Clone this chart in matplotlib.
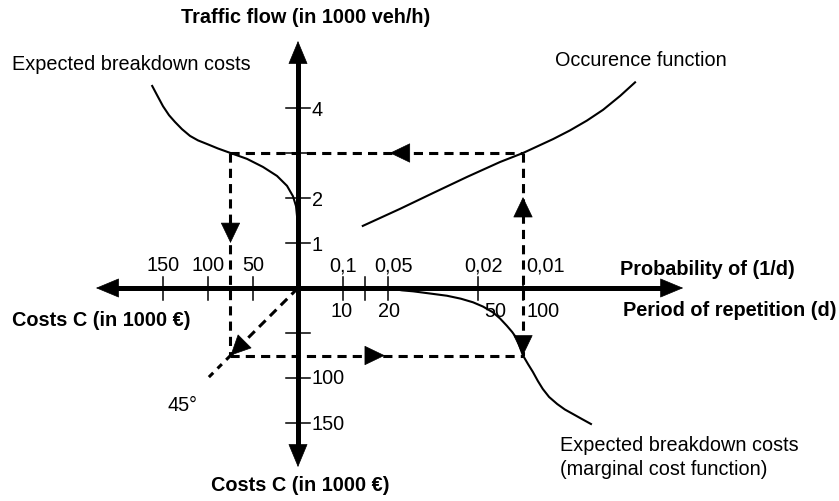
import numpy as np
import matplotlib.pyplot as plt

plt.rcParams['font.family'] = ['Liberation Sans', 'DejaVu Sans']

# One diagram unit = 1000 veh/h on the flow axis = 50 (x1000 EUR) on the cost axes
COST_PER_UNIT = 50.0

# axis ticks
flow_ticks = [1, 2, 3, 4]
flow_labels = ['1', '2', '', '4']
cost_ticks = [50, 100, 150]
left_cost_labels = ['50', '100', '150']
lower_cost_labels = ['', '100', '150']
period_pos = [1.0, 1.5, 2.0, 4.0, 5.0]      # non-linear period scale
period_labels = ['10', '', '20', '50', '100']
prob_labels = ['0,1', '', '0,05', '0,02', '0,01']

# expected breakdown costs vs. traffic flow (upper left)
ul_cost = [162, 156.7, 150, 143.3, 136.7, 128.9, 120, 111.1, 101.1, 88.9, 75,
           56.7, 38.9, 23.3, 12.2, 5.6, 2.2, 1.1]
ul_flow = [4.49, 4.29, 4.04, 3.84, 3.69, 3.53, 3.38, 3.28, 3.2, 3.1, 3.0,
           2.87, 2.69, 2.49, 2.27, 2.04, 1.82, 1.6]

# occurence function: traffic flow vs. period of repetition (upper right)
occ_pos = [1.44, 2.27, 3.0, 3.76, 4.49, 5.0, 5.67, 6.04, 6.42, 6.78, 7.16, 7.49]
occ_flow = [1.38, 1.76, 2.11, 2.47, 2.8, 3.0, 3.31, 3.5, 3.72, 3.96, 4.27, 4.57]

# marginal cost function: costs vs. period of repetition (lower right)
lr_pos = [2.0, 2.31, 2.56, 2.93, 3.31, 3.62, 3.89, 4.11, 4.33, 4.49, 4.64, 4.76,
          4.87, 4.93, 5.0, 5.11, 5.22, 5.33, 5.44, 5.58, 5.76, 5.93, 6.11, 6.31, 6.51]
lr_cost = [0, 2.6, 3.7, 6.1, 8.6, 11.9, 15.9, 20.6, 27, 33.9, 41.9, 48.9,
           56.7, 65.6, 75, 84.4, 93.3, 103.3, 112.2, 121.1, 128.9, 135, 140, 145.6, 151.1]

# design point read through the diagram
design_flow = 3.0
design_pos = 5.0
design_cost = 75.0

fig = plt.figure(figsize=(8.39, 5.02), dpi=100)
ax = fig.add_axes([0, 0, 1, 1])
ax.set_xlim(-298 / 45, 541 / 45)
ax.set_ylim(-213 / 45, 289 / 45)
ax.axis('off')

FS = 14.3


def head(tip, direction, scale=11, hl=1.25, hw=0.6):
    dx, dy = direction
    ax.annotate('', xy=tip, xytext=(tip[0] - dx * 0.3, tip[1] - dy * 0.3),
                arrowprops=dict(arrowstyle=f'-|>,head_length={hl},head_width={hw}',
                                mutation_scale=scale, lw=0.5, color='black',
                                shrinkA=0, shrinkB=0), zorder=5)


# main axes
ax.plot([0, 0], [-3.75, 5.25], color='black', lw=3.6, solid_capstyle='butt', zorder=4)
ax.plot([-4.25, 8.3], [0, 0], color='black', lw=3.6, solid_capstyle='butt', zorder=4)
head((0, 5.49), (0, 1), 13, 1.2, 0.5)
head((0, -3.98), (0, -1), 13, 1.2, 0.5)
head((-4.49, 0), (-1, 0), 13, 1.2, 0.5)
head((8.56, 0), (1, 0), 13, 1.2, 0.5)

tick_kw = dict(color='black', lw=1.1, zorder=3)
for f, lab in zip(flow_ticks, flow_labels):
    ax.plot([-0.27, 0.27], [f, f], **tick_kw)
    if lab:
        ax.text(0.31, f - 0.04, lab, fontsize=FS, ha='left', va='center')
for c, lab_l, lab_d in zip(cost_ticks, left_cost_labels, lower_cost_labels):
    u = c / COST_PER_UNIT
    ax.plot([-u, -u], [-0.26, 0.25], **tick_kw)
    ax.text(-u, 0.53, lab_l, fontsize=FS, ha='center', va='center')
    ax.plot([-0.27, 0.27], [-u, -u], **tick_kw)
    if lab_d:
        ax.text(0.31, -u, lab_d, fontsize=FS, ha='left', va='center')

prob_off = [0.0, 0.0, 0.12, 0.13, 0.07]
per_off = [-0.04, 0.0, 0.02, 0.38, 0.07]
for p, lp, lq, op, oq in zip(period_pos, prob_labels, period_labels, prob_off, per_off):
    ax.plot([p, p], [-0.26, 0.25], **tick_kw)
    ha = 'left' if p == period_pos[-1] else 'center'
    ax.text(p + op, 0.51, lp, fontsize=FS, ha=ha, va='center')
    ax.text(p + oq, -0.49, lq, fontsize=FS, ha=ha, va='center')

# curves
curve_kw = dict(color='black', lw=1.5, zorder=3, solid_joinstyle='round')
ax.plot(-np.array(ul_cost) / COST_PER_UNIT, ul_flow, **curve_kw)
ax.plot(occ_pos, occ_flow, **curve_kw)
ax.plot(lr_pos, -np.array(lr_cost) / COST_PER_UNIT, **curve_kw)

# dashed construction lines
uc = -design_cost / COST_PER_UNIT
vc = -design_cost / COST_PER_UNIT
dash_kw = dict(color='black', lw=2.2, ls=(0, (3, 2)), zorder=2)
ax.plot([uc, design_pos], [design_flow, design_flow], **dash_kw)
ax.plot([design_pos, design_pos], [design_flow, vc], **dash_kw)
ax.plot([uc, uc], [design_flow, vc], **dash_kw)
ax.plot([uc, design_pos], [vc, vc], **dash_kw)
ax.plot([0, uc], [0, vc], **dash_kw)
ax.plot([uc, uc - 0.5], [vc, vc - 0.5], color='black', lw=2.2, ls=(0, (2, 2)), zorder=2)

head((2.04, design_flow), (-1, 0))
head((design_pos, 2.02), (0, 1))
head((uc, 1.0), (0, -1))
head((1.93, vc), (1, 0))
head((design_pos, vc), (0, -1))
head((uc, vc), (-0.707, -0.707))

# labels
bold = dict(fontsize=FS, fontweight='bold')
ax.text(0.16, 6.04, 'Traffic flow (in 1000 veh/h)', ha='center', va='center', **bold)
ax.text(-6.36, 4.98, 'Expected breakdown costs', fontsize=FS, ha='left', va='center')
ax.text(5.71, 5.07, 'Occurence function', fontsize=FS, ha='left', va='center')
ax.text(7.16, 0.44, 'Probability of (1/d)', ha='left', va='center', **bold)
ax.text(7.22, -0.47, 'Period of repetition (d)', ha='left', va='center', **bold)
ax.text(-6.36, -0.69, 'Costs C (in 1000 €)', ha='left', va='center', **bold)
ax.text(0.04, -4.36, 'Costs C (in 1000 €)', ha='center', va='center', **bold)
ax.text(-2.89, -2.58, '45°', fontsize=FS, ha='left', va='center')
ax.text(5.82, -3.47, 'Expected breakdown costs', fontsize=FS, ha='left', va='center')
ax.text(5.82, -4.02, '(marginal cost function)', fontsize=FS, ha='left', va='center')

fig.savefig('out.png', dpi=100)
